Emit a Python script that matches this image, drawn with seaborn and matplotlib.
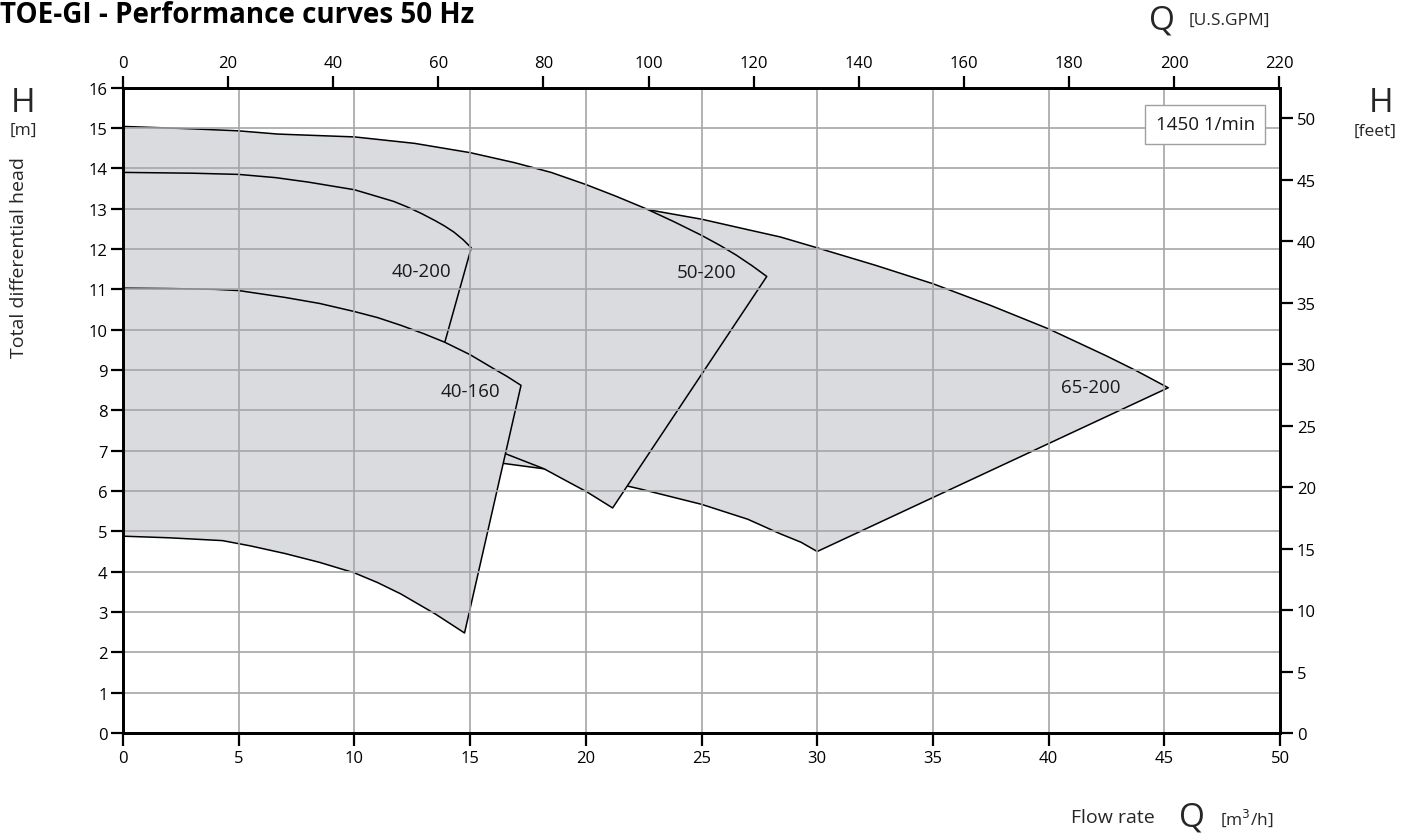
import matplotlib
matplotlib.use("Agg")
import matplotlib.pyplot as plt
import numpy as np
import seaborn as sns

# ---- Performance curve data (flow Q in m3/h, head H in m) ----
# Each pump model: maximum-impeller curve and minimum-impeller curve
models = ["65-200", "50-200", "40-200", "40-160"]

q_65_200_max = [0, 10, 15, 20, 22.84, 25, 27, 28.4, 30, 32.5, 35, 37.5, 40, 42.5, 43.8, 45.17]
h_65_200_max = [13.6, 13.45, 13.3, 13.15, 12.96, 12.74, 12.48, 12.3, 12.03, 11.6, 11.14, 10.6, 10.02, 9.35, 8.98, 8.56]
q_65_200_min = [0, 8, 14, 16.5, 18.2, 20, 22.35, 25, 27, 28.4, 29.3, 30]
h_65_200_min = [7.4, 7.2, 6.85, 6.68, 6.55, 6.36, 6.05, 5.67, 5.3, 4.94, 4.73, 4.5]

q_50_200_max = [0, 3, 5, 6.7, 10, 12.6, 15, 16.93, 18.5, 20, 21.3, 22.6, 23.8, 25, 25.8, 26.5, 27.2, 27.82]
h_50_200_max = [15.04, 14.98, 14.93, 14.85, 14.78, 14.62, 14.39, 14.14, 13.9, 13.6, 13.31, 13.0, 12.68, 12.34, 12.09, 11.85, 11.58, 11.32]
q_50_200_min = [0, 5, 10, 14, 16.55, 18.2, 19.1, 20.04, 21.16]
h_50_200_min = [8.6, 8.5, 8.1, 7.5, 6.92, 6.55, 6.27, 5.98, 5.58]

q_40_200_max = [0, 3, 5, 6.6, 8, 10, 11, 11.7, 12.3, 12.9, 13.5, 13.9, 14.3, 14.7, 15.05]
h_40_200_max = [13.9, 13.88, 13.85, 13.77, 13.66, 13.47, 13.3, 13.18, 13.04, 12.88, 12.7, 12.57, 12.42, 12.23, 12.03]
q_40_200_min = [0, 5, 10, 13.23]
h_40_200_min = [9.6, 9.45, 8.9, 8.3]

q_40_160_max = [0, 2, 4, 5, 7, 8.5, 10, 11, 12, 13, 13.9, 15, 16, 16.6, 17.2]
h_40_160_max = [11.03, 11.02, 11.0, 10.97, 10.8, 10.65, 10.45, 10.3, 10.11, 9.9, 9.69, 9.38, 9.04, 8.84, 8.62]
q_40_160_min = [0, 2, 4.3, 5.5, 7, 8.5, 10, 11, 12, 13.5, 14.76]
h_40_160_min = [4.88, 4.84, 4.77, 4.64, 4.45, 4.23, 3.97, 3.73, 3.45, 2.95, 2.48]

curves = {
    "65-200": (q_65_200_max, h_65_200_max, q_65_200_min, h_65_200_min),
    "50-200": (q_50_200_max, h_50_200_max, q_50_200_min, h_50_200_min),
    "40-200": (q_40_200_max, h_40_200_max, q_40_200_min, h_40_200_min),
    "40-160": (q_40_160_max, h_40_160_max, q_40_160_min, h_40_160_min),
}

# where each model name is written (Q, H)
label_pos = {
    "65-200": (41.8, 8.58),
    "50-200": (25.2, 11.43),
    "40-200": (12.9, 11.45),
    "40-160": (15.0, 8.47),
}

q_ticks = list(range(0, 51, 5))
h_ticks = list(range(0, 17))
gpm_ticks = list(range(0, 221, 20))
feet_ticks = list(range(0, 51, 5))

M3H_TO_GPM = 4.402868
M_TO_FT = 3.28084

# ---- Styling ----
sns.set_theme(style="white")
plt.rcParams["font.family"] = ["Open Sans", "DejaVu Sans"]
plt.rcParams["axes.linewidth"] = 1.6
plt.rcParams["lines.solid_joinstyle"] = "round"

FILL = "#dadbde"
GRID = "#a6a6a6"
TICK_FS = 12

fig = plt.figure(figsize=(14.13, 8.37), dpi=100)
W, H = 1413, 837
ax = fig.add_axes([123 / W, 1 - 734 / H, (1280 - 123) / W, (734 - 88.7) / H])

# draw envelopes back to front: fill then outline
z = 1.0
for name in models:
    qmax, hmax, qmin, hmin = curves[name]
    qs = list(qmax) + list(qmin)[::-1] + [qmax[0]]
    hs = list(hmax) + list(hmin)[::-1] + [hmax[0]]
    ax.fill(qs, hs, color=FILL, lw=0, zorder=z)
    sns.lineplot(x=qs, y=hs, sort=False, estimator=None, color="black",
                 lw=1.1, ax=ax, zorder=z + 0.05)
    z += 0.1

for name in models:
    x, y = label_pos[name]
    ax.text(x, y, name, ha="center", va="center", fontsize=13.5,
            color="#1a1a1a", zorder=5)

ax.set_xlim(0, 50)
ax.set_ylim(0, 16)
ax.set_xticks(q_ticks)
ax.set_yticks(h_ticks)
for q in q_ticks[1:-1]:
    ax.axvline(q, color=GRID, lw=1.2, zorder=3)
for h in h_ticks[1:-1]:
    ax.axhline(h, color=GRID, lw=1.2, zorder=3)
ax.grid(False)
ax.set_xlabel("")
ax.set_ylabel("")
for s in ax.spines.values():
    s.set_color("black")
    s.set_linewidth(1.8)
    s.set_zorder(6)
ax.tick_params(axis="both", direction="out", length=9, width=1.6,
               labelsize=TICK_FS, colors="black")
ax.tick_params(axis="x", bottom=True, pad=3)
ax.tick_params(axis="y", left=True, pad=2)

# secondary scales: U.S. GPM on top, feet on the right
ax_top = ax.twiny()
ax_top.set_xlim(0, 50 * M3H_TO_GPM)
ax_top.set_xticks(gpm_ticks)
ax_top.tick_params(axis="x", top=True, direction="out", length=9, width=1.6,
                   labelsize=TICK_FS, colors="black", pad=3)
ax_top.grid(False)

ax_r = ax.twinx()
ax_r.set_ylim(0, 16 * M_TO_FT)
ax_r.set_yticks(feet_ticks)
ax_r.tick_params(axis="y", right=True, direction="out", length=9, width=1.6,
                 labelsize=TICK_FS, colors="black", pad=3)
ax_r.grid(False)
for a in (ax_top, ax_r):
    for s in a.spines.values():
        s.set_linewidth(1.8)
        s.set_color("black")

# speed box
ax.text(0.9355, 0.9430, "1450 1/min", transform=ax.transAxes, ha="center",
        va="center", fontsize=13.5, color="#1a1a1a", zorder=7,
        bbox=dict(boxstyle="square,pad=0.55", fc="white", ec="#a0a0a0", lw=1.0))

# ---- Figure-level titles and axis captions ----
def px(x, y):
    return x / W, 1 - y / H

fig.text(*px(0, 1), "TOE-GI - Performance curves 50 Hz", fontsize=20,
         fontweight="bold", ha="left", va="top", color="black")

fig.text(*px(23, 104), "H", fontsize=24, ha="center", va="center")
fig.text(*px(23, 131), "[m]", fontsize=12.5, ha="center", va="center")
fig.text(*px(19, 258), "Total differential head", fontsize=14,
         rotation=90, ha="center", va="center")

fig.text(*px(1381, 104), "H", fontsize=24, ha="center", va="center")
fig.text(*px(1375, 132), "[feet]", fontsize=12.5, ha="center", va="center")

fig.text(*px(1162, 21), "Q", fontsize=24, ha="center", va="center")
fig.text(*px(1229, 21), "[U.S.GPM]", fontsize=12.5, ha="center", va="center")

fig.text(*px(1113, 818), "Flow rate", fontsize=14, ha="center", va="center")
fig.text(*px(1192, 818), "Q", fontsize=24, ha="center", va="center")
fig.text(*px(1247, 818), "[m$^3$/h]", fontsize=12.5, ha="center", va="center")

fig.savefig("out.png", dpi=100)
